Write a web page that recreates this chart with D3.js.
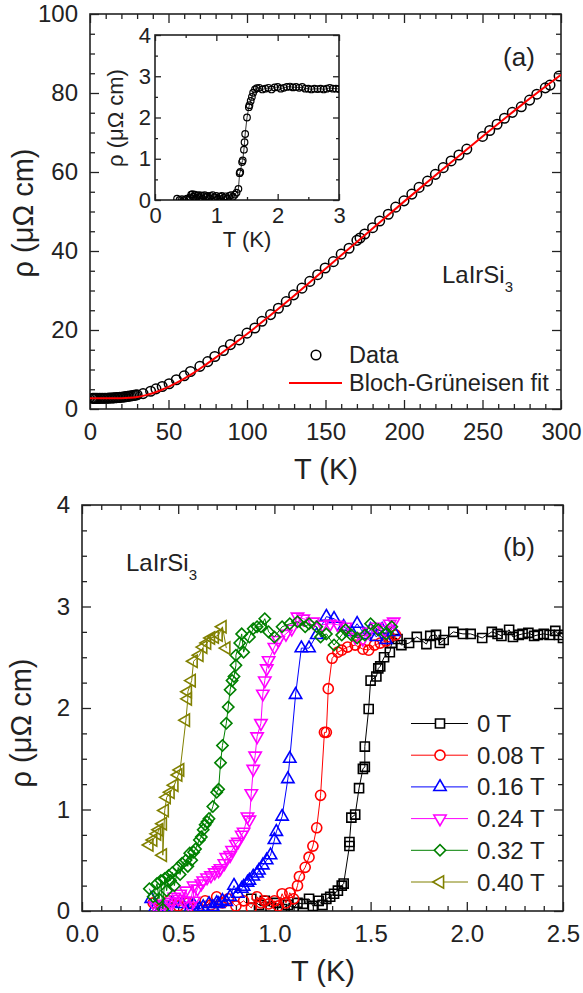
<!DOCTYPE html>
<html>
<head>
<meta charset="utf-8">
<script src="https://cdn.jsdelivr.net/npm/d3@7"></script>
<style>
  body { margin: 0; background: #fff; }
  svg text { font-family: "Liberation Sans", Arial, sans-serif; fill: #222; }
</style>
</head>
<body>
<svg id="chart" width="583" height="993"></svg>
<script>
// ---- panel (a): rho(T) up to 300 K ----
const dataA = [
    [1.8,2.68],[2.5,2.68],[3.2,2.69],[4,2.69],[5,2.70],[6,2.70],[7,2.71],[8,2.71],[9,2.72],[10,2.73],
    [11,2.74],[12,2.75],[13,2.77],[14,2.79],[15,2.81],[16,2.84],[17,2.87],[18,2.90],[19,2.94],[20,2.98],
    [21,3.03],[22,3.08],[23,3.13],[24,3.19],[25,3.25],[26,3.31],[27,3.38],[28,3.45],[29,3.52],[30,3.60],
    [33.8,3.9],[38.6,4.5],[42,5.1],[46,5.7],[50.4,6.4],[55,7.4],[60,8.4],[64,9.5],[70,10.8],[75,12.0],
    [79.5,13.3],[85,14.8],[89.4,16.3],[95,17.5],[100,19.2],[105,20.5],[109.5,22.2],[115,23.9],[120,25.5],
    [125,27.2],[129.7,28.9],[135,30.6],[140,32.3],[145,34.0],[149.8,35.7],[155,37.3],[160,39.2],[165,40.7],
    [170,42.7],[172,43.3],[175,44.3],[180,45.9],[184.5,47.6],[190,49.3],[194.7,51.1],[200,52.7],[205,54.4],
    [209.6,56.1],[215,57.7],[220,59.4],[225,61.1],[230,62.8],[235,64.3],[240,65.8],[250,69.0],[254.6,70.5],
    [259.3,72.1],[264,73.6],[269,75.1],[274.7,76.5],[280,78.2],[284.6,79.7],[290,81.3],[293,82.0],[298.8,84.3]
];
const fitT   = [0, 5, 10, 15, 20, 25, 30, 35, 40, 45, 50, 55, 60, 65, 70, 80, 90, 100, 125, 150, 175, 200, 225, 250, 275, 300];
const fitRho = [2.7, 2.7, 2.7, 2.71, 2.75, 2.85, 3.05, 3.45, 4.0, 4.75, 5.6, 6.6, 7.7, 8.9, 10.2, 13.0, 16.0, 19.0, 27.0, 35.5, 44.0, 52.5, 60.8, 69.0, 77.0, 84.6];

// ---- inset: low temperature, zero field ----
const dataInset = [
    [0.36,0.03],[0.4,0.0],[0.44,0.02],[0.48,0.0],[0.52,0.03],[0.55,0.01],[0.57,0.06],[0.59,0.13],[0.61,0.14],[0.63,0.08],
    [0.65,0.13],[0.67,0.05],[0.69,0.1],[0.71,0.12],[0.73,0.06],[0.75,0.11],[0.77,0.03],[0.79,0.1],[0.81,0.12],[0.83,0.07],
    [0.86,0.1],[0.89,0.04],[0.91,0.1],[0.94,0.12],[0.97,0.06],[1.0,0.1],[1.03,0.03],[1.06,0.08],[1.09,0.1],[1.12,0.05],
    [1.15,0.09],[1.18,0.04],[1.21,0.1],[1.24,0.12],[1.27,0.08],[1.3,0.13],[1.33,0.18],[1.36,0.27],[1.38,0.65],[1.39,0.68],
    [1.42,0.92],[1.43,0.96],[1.45,1.22],[1.46,1.4],[1.47,1.6],[1.5,2.0],[1.53,2.25],[1.54,2.3],[1.56,2.4],[1.58,2.5],
    [1.6,2.6],[1.63,2.68],[1.66,2.71],[1.7,2.72],[1.75,2.68],[1.8,2.7],[1.85,2.72],[1.9,2.68],[1.95,2.73],[2.0,2.74],
    [2.05,2.7],[2.1,2.72],[2.15,2.74],[2.2,2.75],[2.25,2.73],[2.3,2.74],[2.35,2.72],[2.4,2.74],[2.45,2.7],[2.5,2.7],
    [2.55,2.68],[2.6,2.7],[2.65,2.69],[2.7,2.7],[2.75,2.68],[2.8,2.7],[2.85,2.72],[2.9,2.7],[2.95,2.7],[3.0,2.69]
];

// ---- panel (b): field dependence ----
const fieldLabels = ['0 T', '0.08 T', '0.16 T', '0.24 T', '0.32 T', '0.40 T'];
const fieldColors = ['#000000', '#ff0000', '#0000ff', '#ff00ff', '#008000', '#808000'];

const field000 = [
    [0.88,0.12],[0.92,0.06],[0.95,0.1],[0.98,0.04],[1.01,0.08],[1.04,0.02],[1.07,0.06],[1.1,0.03],[1.12,0.08],[1.15,0.07],
    [1.18,0.12],[1.2,0.05],[1.23,0.1],[1.25,0.06],[1.27,0.12],[1.29,0.14],[1.31,0.17],[1.33,0.2],[1.35,0.25],[1.36,0.27],
    [1.39,0.64],[1.39,0.68],[1.4,0.92],[1.42,0.95],[1.44,1.21],[1.46,1.4],[1.47,1.42],[1.47,1.62],[1.49,1.99],[1.5,2.27],
    [1.53,2.31],[1.54,2.39],[1.55,2.41],[1.57,2.5],[1.6,2.55],[1.61,2.64],[1.64,2.68],[1.66,2.62],[1.7,2.64],[1.74,2.7],
    [1.79,2.63],[1.81,2.71],[1.84,2.72],[1.86,2.64],[1.88,2.67],[1.93,2.75],[1.98,2.73],[2.02,2.73],[2.08,2.69],[2.13,2.75],
    [2.16,2.73],[2.18,2.71],[2.22,2.77],[2.24,2.7],[2.27,2.72],[2.29,2.73],[2.32,2.74],[2.35,2.71],[2.37,2.72],[2.4,2.73],
    [2.43,2.72],[2.46,2.76],[2.48,2.72],[2.5,2.69]
];
const field008 = [
    [0.37,0.08],[0.41,0.03],[0.45,0.1],[0.5,0.05],[0.55,0.08],[0.6,0.03],[0.64,0.1],[0.67,0.06],[0.7,0.14],[0.73,0.08],
    [0.76,0.12],[0.8,0.05],[0.84,0.1],[0.88,0.03],[0.91,0.14],[0.93,0.08],[0.95,0.1],[0.97,0.07],[1.0,0.1],[1.02,0.05],
    [1.04,0.17],[1.06,0.08],[1.08,0.18],[1.1,0.12],[1.12,0.25],[1.13,0.34],[1.16,0.43],[1.18,0.53],[1.2,0.64],[1.22,0.82],
    [1.24,1.14],[1.26,1.76],[1.27,1.76],[1.28,2.19],[1.3,2.49],[1.33,2.55],[1.35,2.57],[1.38,2.6],[1.42,2.62],[1.46,2.58],
    [1.49,2.57],[1.52,2.62],[1.55,2.64],[1.58,2.66],[1.6,2.7],[1.63,2.72]
];
const field016 = [
    [0.36,0.12],[0.37,0.0],[0.42,0.04],[0.47,0.08],[0.52,0.07],[0.56,0.02],[0.58,0.06],[0.61,0.02],[0.63,0.04],[0.66,0.07],
    [0.68,0.04],[0.7,0.08],[0.71,0.07],[0.73,0.1],[0.75,0.09],[0.77,0.14],[0.79,0.25],[0.81,0.17],[0.83,0.22],[0.84,0.24],
    [0.86,0.28],[0.87,0.3],[0.89,0.34],[0.91,0.37],[0.92,0.4],[0.94,0.45],[0.96,0.5],[0.98,0.55],[1.0,0.7],[1.01,0.78],
    [1.04,0.93],[1.07,1.3],[1.08,1.5],[1.11,2.13],[1.14,2.59],[1.18,2.59],[1.22,2.72],[1.27,2.9],[1.31,2.88],[1.36,2.8],
    [1.4,2.75],[1.43,2.83],[1.47,2.72],[1.5,2.77],[1.53,2.7],[1.56,2.77],[1.58,2.67],[1.62,2.75]
];
const field024 = [
    [0.38,0.05],[0.4,0.04],[0.43,0.07],[0.45,0.02],[0.46,0.09],[0.48,0.14],[0.5,0.12],[0.51,0.17],[0.53,0.1],[0.54,0.2],
    [0.56,0.05],[0.58,0.25],[0.58,0.1],[0.6,0.22],[0.62,0.27],[0.63,0.3],[0.65,0.33],[0.67,0.35],[0.69,0.38],[0.71,0.4],
    [0.72,0.42],[0.74,0.47],[0.75,0.53],[0.77,0.55],[0.78,0.6],[0.8,0.66],[0.81,0.68],[0.83,0.75],[0.84,0.78],[0.86,0.93],
    [0.87,0.9],[0.88,1.16],[0.89,1.4],[0.9,1.53],[0.91,1.72],[0.93,1.85],[0.94,2.14],[0.95,2.27],[0.96,2.39],[0.97,2.47],
    [1.0,2.6],[1.02,2.67],[1.06,2.73],[1.09,2.78],[1.12,2.9],[1.15,2.88],[1.2,2.85],[1.25,2.82],[1.29,2.83],[1.33,2.82],
    [1.37,2.8],[1.42,2.7],[1.46,2.68],[1.49,2.75],[1.53,2.8],[1.57,2.77],[1.6,2.83],[1.62,2.85]
];
const field032 = [
    [0.35,0.22],[0.37,0.14],[0.39,0.27],[0.4,0.12],[0.41,0.3],[0.42,0.02],[0.43,0.32],[0.44,0.2],[0.45,0.35],[0.46,0.3],
    [0.47,0.38],[0.48,0.25],[0.5,0.43],[0.51,0.36],[0.52,0.47],[0.54,0.5],[0.55,0.44],[0.56,0.57],[0.57,0.5],[0.58,0.58],
    [0.59,0.61],[0.61,0.7],[0.62,0.73],[0.63,0.8],[0.64,0.85],[0.65,0.88],[0.66,0.91],[0.68,1.03],[0.7,1.17],[0.71,1.2],
    [0.72,1.46],[0.73,1.63],[0.75,1.85],[0.76,2.01],[0.77,2.18],[0.78,2.27],[0.79,2.31],[0.8,2.42],[0.8,2.52],[0.82,2.64],
    [0.83,2.73],[0.84,2.55],[0.87,2.7],[0.89,2.78],[0.91,2.8],[0.93,2.8],[0.95,2.88],[0.97,2.75],[1.0,2.7],[1.04,2.8],
    [1.08,2.83],[1.12,2.85],[1.16,2.8],[1.18,2.83],[1.22,2.8],[1.24,2.7],[1.27,2.73],[1.31,2.62],[1.35,2.72],[1.37,2.77],
    [1.4,2.72],[1.43,2.69],[1.47,2.72],[1.5,2.83],[1.54,2.77],[1.58,2.73],[1.61,2.8]
];
const field040 = [
    [0.35,0.65],[0.37,0.7],[0.39,0.76],[0.4,0.8],[0.42,0.86],[0.42,0.55],[0.43,0.99],[0.44,1.12],[0.46,1.17],[0.48,1.24],
    [0.5,1.34],[0.51,1.39],[0.54,1.88],[0.55,2.09],[0.55,2.16],[0.57,2.27],[0.58,2.46],[0.61,2.52],[0.63,2.6],[0.65,2.64],
    [0.67,2.69],[0.69,2.7],[0.71,2.72],[0.73,2.8],[0.75,2.59]
];
const fieldData = [field000, field008, field016, field024, field032, field040];

// tick labels
const aXTicks = [0, 50, 100, 150, 200, 250, 300];
const aYTicks = [0, 20, 40, 60, 80, 100];
const insetXTicks = [0, 1, 2, 3];
const insetYTicks = [0, 1, 2, 3, 4];
const bXTicks = [0, 0.5, 1, 1.5, 2, 2.5];
const bYTicks = [0, 1, 2, 3, 4];

const INK = '#222';
const svg = d3.select('#chart');

// inward ticks on all four sides of a box
function drawFrame(g, x, y, o) {
    let [x0, x1] = x.range();
    let [y0, y1] = y.range();

    g.append('rect')
        .attr('x', x0).attr('y', y1)
        .attr('width', x1 - x0).attr('height', y0 - y1)
        .attr('fill', o.fill || 'none');

    let sides = [
        {fn: d3.axisBottom, s: x, t: `translate(0,${y0})`, major: o.xMajor, minor: o.xMinor, labels: true, pad: o.xPad, fmt: o.xFmt},
        {fn: d3.axisTop, s: x, t: `translate(0,${y1})`, major: o.xMajor, minor: o.xMinor, labels: false},
        {fn: d3.axisLeft, s: y, t: `translate(${x0},0)`, major: o.yMajor, minor: o.yMinor, labels: true, pad: o.yPad, fmt: o.yFmt},
        {fn: d3.axisRight, s: y, t: `translate(${x1},0)`, major: o.yMajor, minor: o.yMinor, labels: false}
    ];

    sides.forEach(function(sd) {
        let minorAxis = sd.fn(sd.s).tickValues(sd.minor).tickSize(-o.minorLen).tickFormat('');
        let majorAxis = sd.fn(sd.s).tickValues(sd.major).tickSize(-o.majorLen)
                            .tickPadding(sd.pad || 0)
                            .tickFormat(sd.labels ? (sd.fmt || d3.format('')) : '');

        [minorAxis, majorAxis].forEach(function(ax) {
            let a = g.append('g')
                        .attr('transform', sd.t)
                        .call(ax)
                        .attr('font-family', null)
                        .attr('font-size', null);
            a.select('.domain').remove();
            a.selectAll('line').attr('stroke', INK).attr('stroke-width', 1.3);
            a.selectAll('text').attr('font-size', o.fontSize).attr('fill', INK);
        });
    });

    g.append('rect')
        .attr('x', x0).attr('y', y1)
        .attr('width', x1 - x0).attr('height', y0 - y1)
        .attr('fill', 'none')
        .attr('stroke', INK)
        .attr('stroke-width', 1.6);
}

function minorTicks(lo, hi, step, majors) {
    return d3.range(lo, hi + step / 2, step).filter(v => !majors.some(m => Math.abs(m - v) < step / 10));
}

function addClip(id, x, y) {
    let [x0, x1] = x.range();
    let [y0, y1] = y.range();
    svg.append('clipPath').attr('id', id)
        .append('rect')
        .attr('x', x0).attr('y', y1)
        .attr('width', x1 - x0).attr('height', y0 - y1);
}

function rotLabel(g, text, cx, cy, size) {
    g.append('text')
        .attr('transform', `translate(${cx},${cy}) rotate(-90)`)
        .attr('text-anchor', 'middle')
        .attr('font-size', size)
        .text(text);
}

function compound(g, xPos, yPos) {
    let t = g.append('text').attr('x', xPos).attr('y', yPos).attr('font-size', 24);
    t.append('tspan').text('LaIrSi');
    t.append('tspan').attr('font-size', 15).attr('dy', 8.5).text('3');
}

// ================= panel (a) =================
let gA = svg.append('g');
let xA = d3.scaleLinear().domain([0, 300]).range([90, 561]);
let yA = d3.scaleLinear().domain([0, 100]).range([409, 14]);
addClip('clipA', xA, yA);

drawFrame(gA, xA, yA, {
    xMajor: aXTicks, xMinor: minorTicks(0, 300, 10, aXTicks),
    yMajor: aYTicks, yMinor: minorTicks(0, 100, 5, aYTicks),
    majorLen: 9, minorLen: 5, xPad: 14, yPad: 12, fontSize: 24
});

let plotA = gA.append('g').attr('clip-path', 'url(#clipA)');
plotA.selectAll('circle.data')
    .data(dataA)
    .enter()
    .append('circle')
    .classed('data', true)
    .attr('cx', d => xA(d[0]))
    .attr('cy', d => yA(d[1]))
    .attr('r', 4.8)
    .attr('fill', 'none')
    .attr('stroke', '#000')
    .attr('stroke-width', 1.5);

let fitLine = d3.line()
                .x((d, i) => xA(fitT[i]))
                .y(d => yA(d))
                .curve(d3.curveMonotoneX);
plotA.append('path')
    .attr('d', fitLine(fitRho))
    .attr('fill', 'none')
    .attr('stroke', '#ff0000')
    .attr('stroke-width', 2);

rotLabel(gA, 'ρ (μΩ cm)', 33, 213, 29);
gA.append('text').attr('x', 326).attr('y', 479).attr('text-anchor', 'middle').attr('font-size', 29).text('T (K)');
gA.append('text').attr('x', 519).attr('y', 66).attr('text-anchor', 'middle').attr('font-size', 26).text('(a)');
compound(gA, 442, 283);

// legend (a)
gA.append('circle').attr('cx', 316).attr('cy', 355).attr('r', 4.8)
    .attr('fill', 'none').attr('stroke', '#000').attr('stroke-width', 1.5);
gA.append('text').attr('x', 349).attr('y', 363).attr('font-size', 23.5).text('Data');
gA.append('line').attr('x1', 289).attr('x2', 342).attr('y1', 383).attr('y2', 383)
    .attr('stroke', '#ff0000').attr('stroke-width', 2);
gA.append('text').attr('x', 349).attr('y', 391).attr('font-size', 23.5).text('Bloch-Grüneisen fit');

// ================= inset =================
let gI = svg.append('g');
let xI = d3.scaleLinear().domain([0, 3]).range([155, 339]);
let yI = d3.scaleLinear().domain([0, 4]).range([200, 35]);
addClip('clipI', xI, yI);

drawFrame(gI, xI, yI, {
    xMajor: insetXTicks, xMinor: minorTicks(0, 3, 0.5, insetXTicks),
    yMajor: insetYTicks, yMinor: minorTicks(0, 4, 0.5, insetYTicks),
    majorLen: 6, minorLen: 3, xPad: 7, yPad: 4, fontSize: 22, fill: '#fff'
});

let plotI = gI.append('g').attr('clip-path', 'url(#clipI)');
plotI.append('path')
    .attr('d', d3.line().x(d => xI(d[0])).y(d => yI(d[1]))(dataInset))
    .attr('fill', 'none')
    .attr('stroke', '#000')
    .attr('stroke-width', 0.8);
plotI.selectAll('circle')
    .data(dataInset)
    .enter()
    .append('circle')
    .attr('cx', d => xI(d[0]))
    .attr('cy', d => yI(d[1]))
    .attr('r', 3.3)
    .attr('fill', 'none')
    .attr('stroke', '#000')
    .attr('stroke-width', 1.2);

rotLabel(gI, 'ρ (μΩ cm)', 123, 118, 22);
gI.append('text').attr('x', 247).attr('y', 247).attr('text-anchor', 'middle').attr('font-size', 22).text('T (K)');

// ================= panel (b) =================
let gB = svg.append('g');
let xB = d3.scaleLinear().domain([0, 2.5]).range([82, 563]);
let yB = d3.scaleLinear().domain([0, 4]).range([911, 505]);
addClip('clipB', xB, yB);

drawFrame(gB, xB, yB, {
    xMajor: bXTicks, xMinor: minorTicks(0, 2.5, 0.1, bXTicks),
    yMajor: bYTicks, yMinor: minorTicks(0, 4, 0.25, bYTicks),
    majorLen: 9, minorLen: 5, xPad: 14, yPad: 12, fontSize: 24,
    xFmt: d3.format('.1f')
});

const markers = [
    {type: d3.symbolSquare, size: 82, rot: 0},
    {type: d3.symbolCircle, size: 80, rot: 0},
    {type: d3.symbolTriangle, size: 66, rot: 0},
    {type: d3.symbolTriangle, size: 66, rot: 180},
    {type: d3.symbolSquare, size: 64, rot: 45},
    {type: d3.symbolTriangle, size: 66, rot: -90}
];

let plotB = gB.append('g').attr('clip-path', 'url(#clipB)');
let lineB = d3.line().x(d => xB(d[0])).y(d => yB(d[1]));

fieldData.forEach(function(series, i) {
    let m = markers[i];
    let sym = d3.symbol().type(m.type).size(m.size);
    let s = plotB.append('g');
    s.append('path')
        .attr('d', lineB(series))
        .attr('fill', 'none')
        .attr('stroke', fieldColors[i])
        .attr('stroke-width', 1);
    s.selectAll('path.mk')
        .data(series)
        .enter()
        .append('path')
        .classed('mk', true)
        .attr('d', sym)
        .attr('transform', d => `translate(${xB(d[0])},${yB(d[1])}) rotate(${m.rot})`)
        .attr('fill', 'none')
        .attr('stroke', fieldColors[i])
        .attr('stroke-width', 1.6);
});

// legend (b)
fieldLabels.forEach(function(label, i) {
    let m = markers[i];
    let rowY = 723.5 + i * 31.7;
    gB.append('line')
        .attr('x1', 411).attr('x2', 468)
        .attr('y1', rowY).attr('y2', rowY)
        .attr('stroke', fieldColors[i])
        .attr('stroke-width', 1);
    gB.append('path')
        .attr('d', d3.symbol().type(m.type).size(m.size)())
        .attr('transform', `translate(440,${rowY}) rotate(${m.rot})`)
        .attr('fill', '#fff')
        .attr('stroke', fieldColors[i])
        .attr('stroke-width', 1.6);
    gB.append('text')
        .attr('x', 477).attr('y', rowY + 8.5)
        .attr('font-size', 24)
        .text(label);
});

rotLabel(gB, 'ρ (μΩ cm)', 31, 723, 29);
gB.append('text').attr('x', 323).attr('y', 981).attr('text-anchor', 'middle').attr('font-size', 29).text('T (K)');
gB.append('text').attr('x', 519).attr('y', 556).attr('text-anchor', 'middle').attr('font-size', 26).text('(b)');
compound(gB, 126, 571);
</script>
</body>
</html>
